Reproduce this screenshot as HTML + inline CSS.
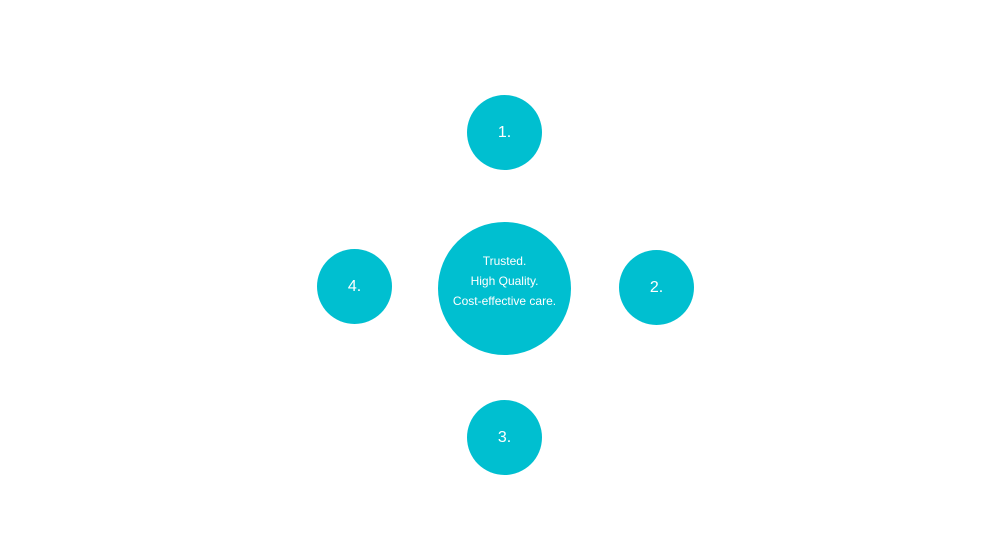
<!DOCTYPE html>
<html><head><style>
body{margin:0;width:1002px;height:550px;background:#fff;position:relative;overflow:hidden;font-family:"Liberation Sans",sans-serif;}
.c{position:absolute;border-radius:50%;background:#00bfd0;color:#fff;display:flex;align-items:center;justify-content:center;text-align:center;box-sizing:border-box;}
.s{width:75px;height:75px;font-size:16px;}
</style></head><body>
<div class="c s" style="left:467px;top:95px">1.</div>
<div class="c s" style="left:619px;top:250px">2.</div>
<div class="c s" style="left:467px;top:400px">3.</div>
<div class="c s" style="left:317px;top:249px">4.</div>
<div class="c" style="left:438px;top:222px;width:133px;height:133px;font-size:12px;line-height:20px;padding-bottom:16px;">Trusted.<br>High Quality.<br>Cost-effective care.</div>
</body></html>
